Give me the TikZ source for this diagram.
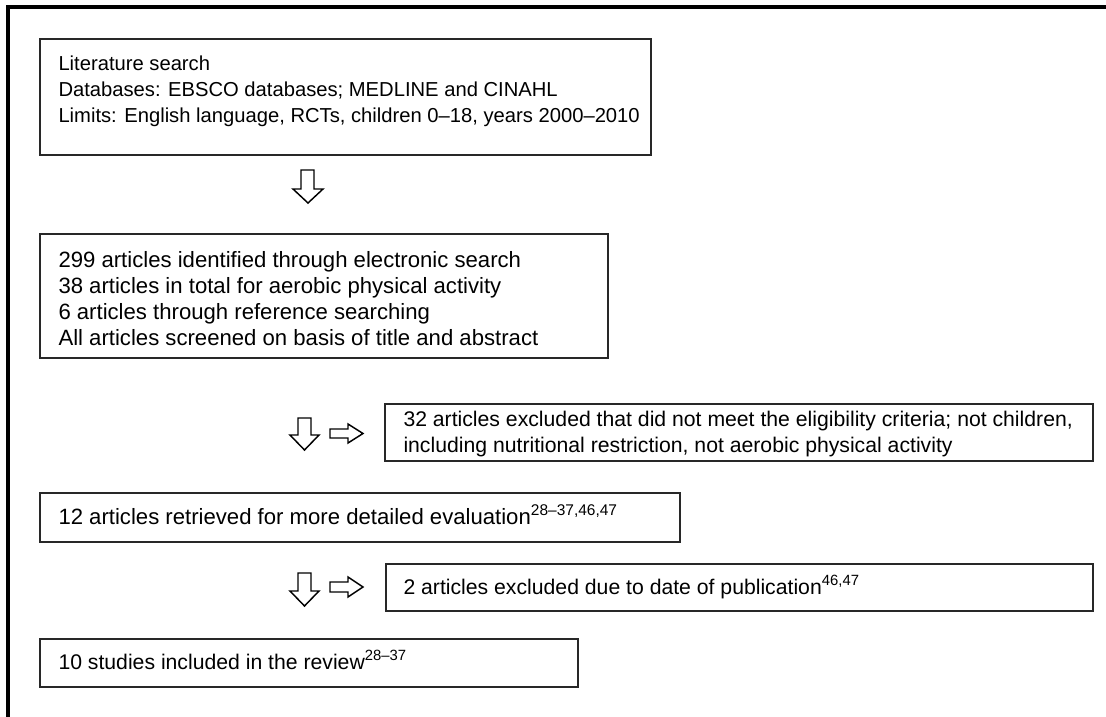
\documentclass[tikz,border=0pt]{standalone}
\usepackage{fontspec}
\setmainfont{Liberation Sans}

\tikzset{every picture/.style={line width=0.75pt}}
\tikzset{
  boxline/.style={draw={rgb, 255:red, 40; green, 40; blue, 40 }, line width=0.8},
  blockarrow/.style={draw=black, line width=1.1, fill=white, line join=miter},
  txt/.style={inner sep=0pt, align=left, font=\fontsize{15.15}{19.5}\selectfont},
  bigtxt/.style={inner sep=0pt, align=left, font=\fontsize{16.6}{19.5}\selectfont},
  midtxt/.style={inner sep=0pt, align=left, font=\fontsize{15.9}{19.5}\selectfont}
}

\begin{document}
\begin{tikzpicture}[x=0.75pt,y=0.75pt,yscale=-1,xscale=1]
\useasboundingbox (0,0) rectangle (1106,717);

%Outer frame (top and left)
\draw [line width=2.6]  (8,717) -- (8,7) -- (1106,7) ;

%Shape: Rectangle [id:box1] 
\draw [boxline]  (40,39) rectangle (651,155) ;
%Shape: Rectangle [id:box2] 
\draw [boxline]  (40,234) rectangle (608,358) ;
%Shape: Rectangle [id:box3] 
\draw [boxline]  (385,404) rectangle (1093,461) ;
%Shape: Rectangle [id:box4] 
\draw [boxline]  (40,493) rectangle (680,542) ;
%Shape: Rectangle [id:box5] 
\draw [boxline]  (386,564) rectangle (1093,611) ;
%Shape: Rectangle [id:box6] 
\draw [boxline]  (40,639) rectangle (578,687) ;

%Shape: Down Arrow [id:down1] 
\draw [blockarrow]  (301,170) -- (314,170) -- (314,189) -- (323,189) -- (308,203) -- (293,189) -- (301,189) -- cycle ;
%Shape: Down Arrow [id:down2] 
\draw [blockarrow]  (298,418) -- (311,418) -- (311,435) -- (319,435) -- (304.5,450) -- (290,435) -- (298,435) -- cycle ;
%Shape: Right Arrow [id:right2] 
\draw [blockarrow]  (330,429) -- (348,429) -- (348,424) -- (363,433.5) -- (348,443) -- (348,438) -- (330,438) -- cycle ;
%Shape: Down Arrow [id:down3] 
\draw [blockarrow]  (298,573) -- (311,573) -- (311,591) -- (319,591) -- (304.5,606) -- (290,591) -- (298,591) -- cycle ;
%Shape: Right Arrow [id:right3] 
\draw [blockarrow]  (330,582) -- (348,582) -- (348,577) -- (363,587) -- (348,597) -- (348,592) -- (330,592) -- cycle ;

% Text Node
\draw (58,55.2) node [anchor=north west][txt] (search) {Literature search\\Databases: EBSCO databases; MEDLINE and CINAHL\\Limits: English language, RCTs, children 0–18, years 2000–2010};
% Text Node
\draw (58,250.9) node [anchor=north west][bigtxt] (identified) {299 articles identified through electronic search\\38 articles in total for aerobic physical activity\\6 articles through reference searching\\All articles screened on basis of title and abstract};
% Text Node
\draw (403,410.5) node [anchor=north west][midtxt] (excluded) {32 articles excluded that did not meet the eligibility criteria; not children,\\including nutritional restriction, not aerobic physical activity};
% Text Node
\draw (58,524) node [anchor=base west][bigtxt] (retrieved) {12 articles retrieved for more detailed evaluation\textsuperscript{28–37,46,47}};
% Text Node
\draw (403,594) node [anchor=base west][midtxt] (dated) {2 articles excluded due to date of publication\textsuperscript{46,47}};
% Text Node
\draw (58,669) node [anchor=base west][midtxt] (included) {10 studies included in the review\textsuperscript{28–37}};

\end{tikzpicture}
\end{document}
